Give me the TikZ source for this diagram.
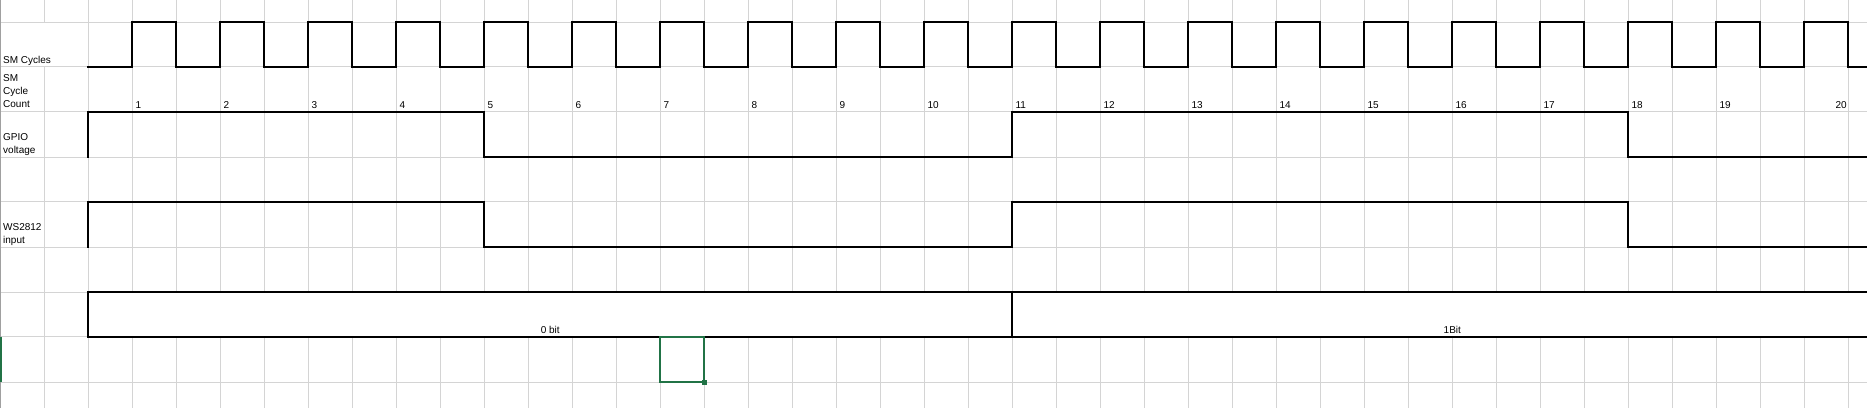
\documentclass[tikz,border=0pt]{standalone}
\usepackage{fontspec}
\setmainfont{Liberation Sans}
\definecolor{gridgray}{HTML}{D4D4D4}
\definecolor{edgegray}{HTML}{A0A0A0}
\definecolor{xlgreen}{HTML}{217346}
\begin{document}
\begin{tikzpicture}[x=1pt,y=-1pt,
  wave/.style={line width=2pt, line join=miter, line cap=rect},
  gridline/.style={gridgray, line width=1pt},
  lbl/.style={font=\fontsize{10}{12}\selectfont, inner sep=0pt, anchor=base west}]
\useasboundingbox (0,0) rectangle (1867,408);
\fill[white] (0,0) rectangle (1867,408);
% grid
\foreach \k in {0,...,41} \draw[gridline] ({44.3+44*\k},0) -- ({44.3+44*\k},408);
\foreach \y in {22.3,66.7,111.7,157.3,201.7,247.3,292.3,336.7,382.3} \draw[gridline] (0,\y) -- (1867,\y);
% hidden grid where text overflows
\fill[white] (43.3,23.3) rectangle (45.3,65.7);
% merged bit cells
\fill[white] (88.3,292.3) rectangle (1867,336.7);
% left edge
\draw[edgegray, line width=1pt] (0.5,0) -- (0.5,408);
\draw[xlgreen, line width=1.5pt] (0.75,336.7) -- (0.75,382.3);
% SM clock
\draw[wave] (88.3,66.7) \foreach \i in {1,...,20} { -- ++(44,0) -- ++(0,-44.4) -- ++(44,0) -- ++(0,44.4) } -- (1867,66.7);
% GPIO voltage
\draw[wave] (88.3,157.3) -- (88.3,111.7) -- (484.3,111.7) -- (484.3,157.3) -- (1012.3,157.3) -- (1012.3,111.7) -- (1628.3,111.7) -- (1628.3,157.3) -- (1867,157.3);
% WS2812 input
\draw[wave] (88.3,247.3) -- (88.3,201.7) -- (484.3,201.7) -- (484.3,247.3) -- (1012.3,247.3) -- (1012.3,201.7) -- (1628.3,201.7) -- (1628.3,247.3) -- (1867,247.3);
% bit boxes
\draw[wave] (1867,292.3) -- (88.3,292.3) -- (88.3,336.7) -- (1867,336.7);
\draw[wave] (1012.3,292.3) -- (1012.3,336.7);
% selection
\draw[xlgreen, line width=2pt] (660.3,336.7) rectangle (704.3,382.3);
\fill[xlgreen] (701.5,379.5) rectangle (707,385);
% row labels
\node[lbl] (lsm) at (3,63.2) {SM Cycles};
\node[lbl] (lsm1) at (3,81.1) {SM};
\node[lbl] (lsm2) at (3,94.4) {Cycle};
\node[lbl] (lsm3) at (3,107.7) {Count};
\node[lbl] (lg1) at (3,140.2) {GPIO};
\node[lbl] (lg2) at (3,153.5) {voltage};
\node[lbl] (lw1) at (3,230.1) {WS2812};
\node[lbl] (lw2) at (3,243.4) {input};
% cycle counts
\foreach \n in {1,...,19} \node[lbl] (c\n) at ({88.3+44*(2*\n-1)+3},108) {\n};
\node[lbl, anchor=base east] (c20) at (1846.8,108) {20};
% bit labels
\node[lbl, anchor=base] (b0) at (550.3,333) {0 bit};
\node[lbl, anchor=base] (b1) at (1452.3,333) {1Bit};
\end{tikzpicture}
\end{document}
